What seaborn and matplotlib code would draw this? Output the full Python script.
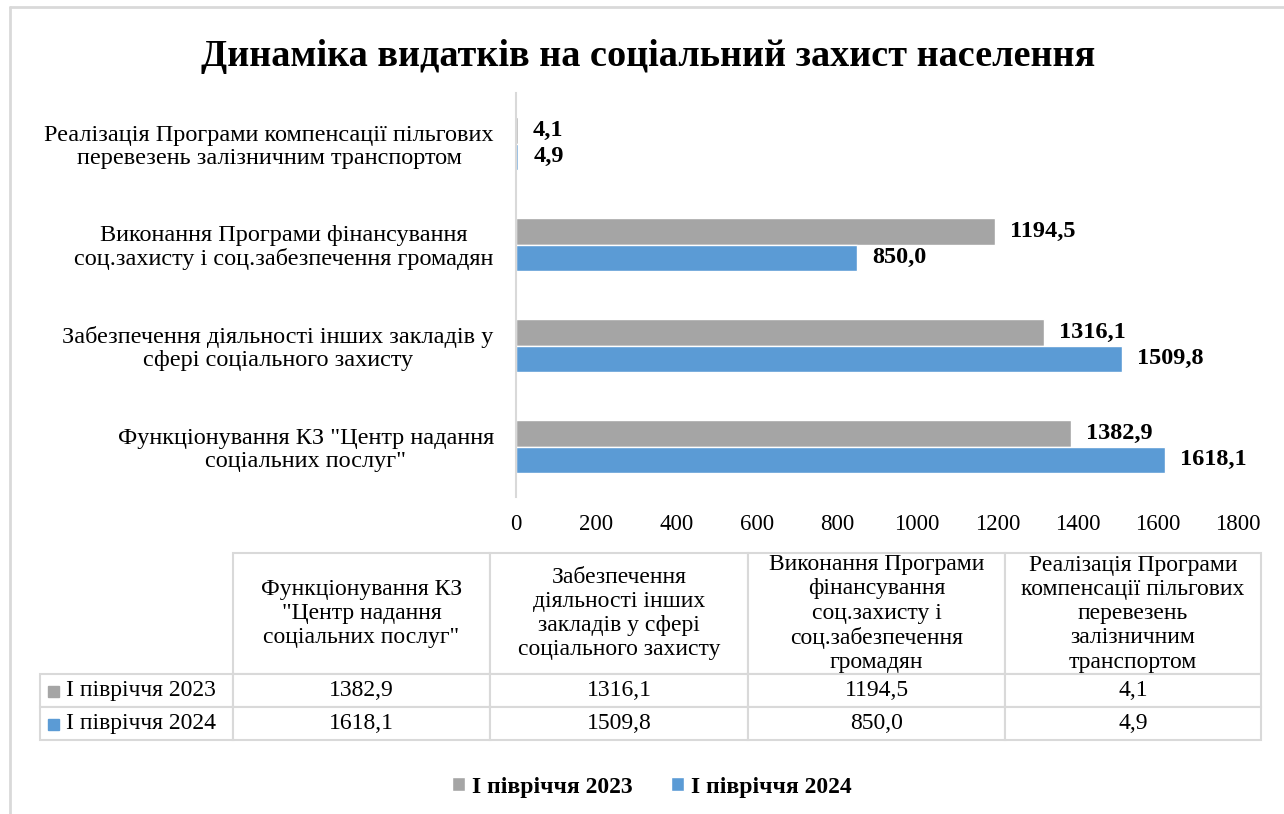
import numpy as np
import pandas as pd
import matplotlib
matplotlib.use('Agg')
import matplotlib.pyplot as plt
import seaborn as sns
from matplotlib.patches import Rectangle
from matplotlib.lines import Line2D

# data (order as in the table, bottom-to-top on the chart)
categories = ['Функціонування КЗ', 'Забезпечення діяльності', 'Виконання Програми', 'Реалізація Програми']
axis_labels = ['Функціонування КЗ "Центр надання\nсоціальних послуг"',
               'Забезпечення діяльності інших закладів у\nсфері соціального захисту',
               'Виконання Програми фінансування\nсоц.захисту і соц.забезпечення громадян',
               'Реалізація Програми компенсації пільгових\nперевезень залізничним транспортом']
table_headers = ['Функціонування КЗ\n"Центр надання\nсоціальних послуг"',
                 'Забезпечення\nдіяльності інших\nзакладів у сфері\nсоціального захисту',
                 'Виконання Програми\nфінансування\nсоц.захисту і\nсоц.забезпечення\nгромадян',
                 'Реалізація Програми\nкомпенсації пільгових\nперевезень\nзалізничним\nтранспортом']
periods = ['І півріччя 2023', 'І півріччя 2024']
values_2023 = [1382.9, 1316.1, 1194.5, 4.1]
values_2024 = [1618.1, 1509.8, 850.0, 4.9]
colors = ['#A5A5A5', '#5B9BD5']
title = 'Динаміка видатків на соціальний захист населення'


def fmt(v):
    return f'{v:.1f}'.replace('.', ',')


sns.set_style('white')
plt.rcParams['font.family'] = ['Liberation Serif', 'DejaVu Serif']
plt.rcParams['text.color'] = 'black'
plt.rcParams['xtick.color'] = 'black'
plt.rcParams['ytick.color'] = 'black'

W, H = 1284, 814
fig = plt.figure(figsize=(W / 100, H / 100), dpi=100)

df = pd.DataFrame({
    'cat': categories * 2,
    'period': [periods[0]] * 4 + [periods[1]] * 4,
    'value': values_2023 + values_2024,
})

ax = fig.add_axes([516 / W, 1 - 497 / H, (1238 - 516) / W, (497 - 93) / H])
sns.barplot(data=df, y='cat', x='value', hue='period', order=categories[::-1],
            hue_order=periods, palette=colors, orient='h', width=0.52,
            saturation=1, ax=ax)

handles, labels = ax.get_legend_handles_labels()
ax.get_legend().remove()

for cont in ax.containers:
    ax.bar_label(cont, labels=[fmt(v) for v in cont.datavalues], padding=11,
                 fontsize=17.5, fontweight='bold', color='black')

ax.set_xlim(0, 1800)
ax.set_xticks(range(0, 2000, 200))
ax.set_yticks(range(len(categories)))
ax.set_yticklabels(axis_labels[::-1], multialignment='center', linespacing=1.1)
ax.tick_params(axis='y', length=0, pad=16, labelsize=17.5)
ax.tick_params(axis='x', length=0, pad=12, labelsize=16.5)
ax.set_xlabel('')
ax.set_ylabel('')
for side in ['top', 'right', 'bottom']:
    ax.spines[side].set_visible(False)
ax.spines['left'].set_color('#d9d9d9')
ax.spines['left'].set_linewidth(1.5)

fig.text(648 / W, 1 - 57 / H, title, ha='center', va='center',
         fontsize=27.5, fontweight='bold')

# data table
tax = fig.add_axes([40 / W, 1 - 740 / H, (1261 - 40) / W, (740 - 553) / H])
tax.axis('off')
cell_text = [[''] + table_headers,
             [periods[0]] + [fmt(v) for v in values_2023],
             [periods[1]] + [fmt(v) for v in values_2024]]
tbl = tax.table(cellText=cell_text, cellLoc='center', bbox=[0, 0, 1, 1],
                colWidths=[193, 257, 258, 257, 256])
tbl.auto_set_font_size(False)
tbl.set_fontsize(17)
for (r, c), cell in tbl.get_celld().items():
    cell.set_edgecolor('#d9d9d9')
    cell.set_linewidth(1.5)
    cell.set_height(122 if r == 0 else 33)
    cell.get_text().set_linespacing(1.2 if r == 0 else 1.1)
    if r == 0 and c == 0:
        cell.visible_edges = 'open'
    if r > 0 and c == 0:
        cell.get_text().set_ha('left')
        cell.PAD = 0.135

# legend keys inside the table
for i, col in enumerate(colors):
    yc = 691 + i * 33
    fig.add_artist(Rectangle((48 / W, 1 - (yc + 5.5) / H), 11 / W, 11 / H,
                             transform=fig.transFigure, color=col))

fig.legend(handles, labels, loc='center', bbox_to_anchor=(652 / W, 1 - 787 / H),
           ncol=2, frameon=False, prop={'weight': 'bold', 'size': 17},
           handlelength=0.55, handleheight=0.55, handletextpad=0.3,
           columnspacing=1.6)

# chart frame
fig.add_artist(Line2D([10 / W, 10 / W], [0, 1 - 7 / H], color='#d9d9d9', lw=2,
                      transform=fig.transFigure))
fig.add_artist(Line2D([10 / W, 1], [1 - 7 / H, 1 - 7 / H], color='#d9d9d9', lw=2,
                      transform=fig.transFigure))

fig.savefig('out.png', dpi=100)
plt.close(fig)
